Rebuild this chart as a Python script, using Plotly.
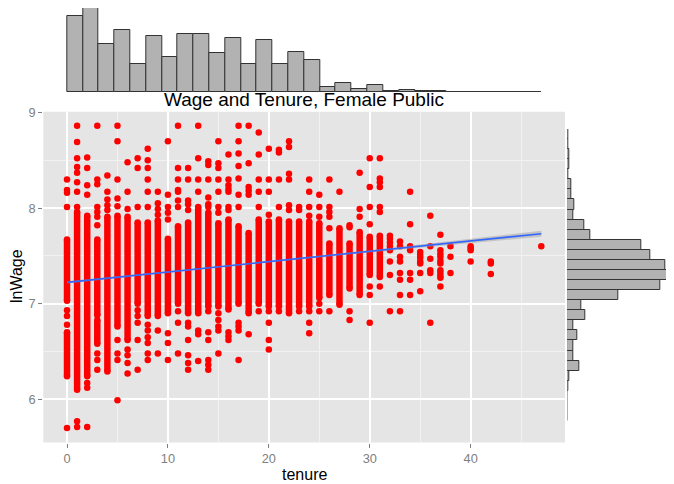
import numpy as np
import plotly.graph_objects as go

# ---------------- data ----------------
# dense vertical runs of points (one run per tenure column)
seg_tenure = [0, 0, 1, 2, 3, 3, 4, 5, 6, 7, 8, 9, 10, 11, 12, 13, 14, 15, 16, 17,
              18, 19, 20, 21, 22, 23, 24, 25, 26, 27, 28, 29, 30, 31]
seg_low = [7.03, 6.24, 6.10, 6.24, 6.88, 6.58, 6.29, 6.76, 6.62, 7.00, 6.87, 6.87,
           6.90, 7.00, 6.90, 6.90, 6.97, 6.97, 6.94, 7.00, 6.90, 7.00, 6.97, 6.97,
           6.90, 6.97, 6.97, 7.06, 7.09, 6.99, 7.16, 7.09, 7.30, 7.28]
seg_high = [7.67, 6.70, 7.96, 7.92, 7.67, 6.83, 7.91, 7.92, 7.91, 7.85, 7.85, 7.87,
            7.68, 7.81, 7.85, 8.01, 7.95, 7.84, 7.88, 7.81, 7.74, 7.88, 7.86, 7.88,
            7.86, 7.86, 7.86, 7.84, 7.63, 7.79, 7.63, 7.75, 7.70, 7.71]

# isolated points: number per tenure value, then their lnWage values in order
pt_tenure_values = list(range(0, 48))
pt_count = [8, 10, 7, 10, 5, 9, 7, 8, 12, 6, 8, 10, 11, 7, 12, 12, 10, 11, 6, 6,
            8, 5, 6, 3, 7, 5, 6, 1, 4, 3, 7, 7, 8, 8, 7, 7, 6, 11, 3, 0,
            4, 0, 3, 0, 0, 0, 0, 1]
pt_wage = [
    8.30, 8.19, 8.16, 8.01, 6.93, 6.87, 6.78, 5.70,                 # 0
    8.86, 8.69, 8.52, 8.43, 8.37, 8.27, 8.17, 8.01, 5.77, 5.71,     # 1
    8.53, 8.42, 8.24, 8.14, 6.17, 6.12, 5.71,                       # 2
    8.86, 8.30, 8.25, 8.01, 7.96, 7.91, 7.82, 6.48, 6.41, 6.31,     # 3
    8.34, 8.17, 8.09, 8.03, 7.98,                                   # 4
    8.86, 8.70, 8.30, 8.10, 8.02, 6.62, 6.48, 6.41, 5.99,           # 5
    8.48, 8.17, 7.99, 6.52, 6.46, 6.38, 6.27,                       # 6
    8.52, 8.42, 8.01, 6.93, 6.87, 6.80, 6.62, 6.31,                 # 7
    8.62, 8.50, 8.42, 8.30, 8.17, 8.01, 6.78, 6.72, 6.65, 6.59, 6.48, 6.41,  # 8
    8.17, 8.05, 7.99, 7.93, 6.72, 6.48,                             # 9
    8.70, 8.14, 8.01, 7.95, 7.88, 6.69, 6.59, 6.41,                 # 10
    8.86, 8.42, 8.30, 8.19, 8.17, 8.08, 8.01, 6.92, 6.80, 6.48,     # 11
    8.42, 8.30, 8.08, 8.04, 7.98, 6.80, 6.76, 6.62, 6.46, 6.38, 6.31,  # 12
    8.86, 8.52, 8.30, 8.17, 6.72, 6.68, 6.40,                       # 13
    8.49, 8.45, 8.30, 8.11, 8.04, 8.01, 6.92, 6.70, 6.62, 6.41, 6.36, 6.31,  # 14
    8.70, 8.47, 8.42, 8.30, 8.17, 8.01, 7.95, 6.90, 6.83, 6.76, 6.72, 6.48,  # 15
    8.56, 8.30, 8.24, 8.20, 8.17, 8.01, 7.98, 6.70, 6.66, 6.62,     # 16
    8.86, 8.70, 8.57, 8.44, 8.31, 8.14, 8.01, 6.80, 6.76, 6.72, 6.41,  # 17
    8.86, 8.47, 8.22, 8.18, 8.14, 6.68,                             # 18
    8.79, 8.56, 8.30, 8.17, 8.01, 6.92,                             # 19
    8.62, 8.30, 8.17, 7.93, 6.92, 6.80, 6.62, 6.52,                 # 20
    8.61, 8.58, 8.30, 8.01, 6.92,                                   # 21
    8.70, 8.64, 8.36, 8.30, 8.03, 7.98,                             # 22
    8.01, 7.98, 6.92,                                               # 23
    8.30, 8.17, 8.01, 7.92, 6.92, 6.80, 6.69,                       # 24
    8.14, 8.01, 7.91, 7.00, 6.92,                                   # 25
    8.30, 8.01, 7.96, 7.91, 7.79, 6.92,                             # 26
    8.17,                                                           # 27
    7.82, 7.80, 6.92, 6.83,                                         # 28
    8.37, 7.99, 7.91,                                               # 29
    8.52, 8.22, 8.01, 7.83, 7.18, 7.09, 6.80,                       # 30
    8.52, 8.31, 8.27, 8.22, 8.01, 7.96, 7.18,                       # 31
    7.71, 7.68, 7.64, 7.60, 7.56, 7.44, 7.30, 6.92,                 # 32
    7.65, 7.60, 7.49, 7.44, 7.32, 7.25, 7.09, 6.92,                 # 33
    8.17, 7.83, 7.60, 7.56, 7.32, 7.25, 7.09,                       # 34
    7.54, 7.51, 7.48, 7.44, 7.42, 7.32, 7.13,                       # 35
    7.92, 7.60, 7.47, 7.35, 7.32, 6.80,                             # 36
    7.72, 7.56, 7.52, 7.49, 7.45, 7.42, 7.35, 7.32, 7.29, 7.27, 7.18,  # 37
    7.60, 7.49, 7.32,                                               # 38
    7.60, 7.58, 7.56, 7.44,                                         # 40
    7.44, 7.42, 7.31,                                               # 42
    7.60,                                                           # 47
]

# linear smoother
fit_tenure = [0, 10, 20, 30, 40, 47]
fit_wage = [7.223, 7.331, 7.440, 7.548, 7.656, 7.732]
fit_halfwidth = [0.012, 0.007, 0.006, 0.012, 0.022, 0.031]

# marginal histogram of tenure (30 bins over 0..47)
tenure_bin_start = 0.0
tenure_binwidth = 47 / 30
tenure_counts = [229, 257, 146, 188, 84, 170, 105, 176, 175, 117, 163, 84, 158, 84, 120,
                 96, 15, 28, 9, 23, 5, 7, 4, 3, 1, 1, 1, 0.6, 0.6, 1]

# marginal histogram of lnWage (bottom bin first)
wage_bin_start = 5.65
wage_binwidth = 0.11
wage_counts = [1, 1, 1, 2, 5, 35, 17, 18, 30, 19, 53, 41, 153, 278, 316, 293, 250, 223,
               70, 51, 17, 21, 13, 11, 3, 5, 5, 3, 3]

x_ticks = [0, 10, 20, 30, 40]
y_ticks = [6, 7, 8, 9]

# ---------------- build figure ----------------
# The page body has an 8px margin, so the figure is offset by (8, 8) in the window.
OFF = 8
W, H = 674 - OFF, 484 - OFF
FONT = "Liberation Sans, Arial, Helvetica, sans-serif"
RED = "#FF0000"


def fx(px):
    return (px - OFF) / W


def fy(py):
    return min(1.0, 1 - (py - OFF) / H)


pt_tenure = np.repeat(pt_tenure_values, pt_count)

seg_x, seg_y = [], []
for t, lo, hi in zip(seg_tenure, seg_low, seg_high):
    seg_x += [t, t, None]
    seg_y += [lo, hi, None]

fig = go.Figure()

# dense runs
fig.add_trace(go.Scatter(x=seg_x, y=seg_y, mode="lines+markers",
                         line=dict(color=RED, width=6.5),
                         marker=dict(color=RED, size=6.5),
                         connectgaps=False, hoverinfo="skip",
                         xaxis="x", yaxis="y", showlegend=False))
# isolated points
fig.add_trace(go.Scatter(x=pt_tenure, y=pt_wage, mode="markers",
                         marker=dict(color=RED, size=6.5),
                         xaxis="x", yaxis="y", showlegend=False))
# confidence band
lo = [w - h for w, h in zip(fit_wage, fit_halfwidth)]
hi = [w + h for w, h in zip(fit_wage, fit_halfwidth)]
fig.add_trace(go.Scatter(x=fit_tenure + fit_tenure[::-1], y=hi + lo[::-1],
                         fill="toself", fillcolor="rgba(153,153,153,0.45)",
                         line=dict(width=0), mode="lines", hoverinfo="skip",
                         xaxis="x", yaxis="y", showlegend=False))
fig.add_trace(go.Scatter(x=fit_tenure, y=fit_wage, mode="lines",
                         line=dict(color="#3366FF", width=1.6),
                         xaxis="x", yaxis="y", showlegend=False))

# top histogram
t_centers = tenure_bin_start + tenure_binwidth * (np.arange(len(tenure_counts)) + 0.5)
fig.add_trace(go.Bar(x=t_centers, y=tenure_counts, width=tenure_binwidth,
                     marker=dict(color="#B2B2B2", line=dict(color="#333333", width=1)),
                     xaxis="x2", yaxis="y2", showlegend=False))

# right histogram
w_centers = wage_bin_start + wage_binwidth * (np.arange(len(wage_counts)) + 0.5)
fig.add_trace(go.Bar(y=w_centers, x=wage_counts, width=wage_binwidth, orientation="h",
                     marker=dict(color="#B2B2B2", line=dict(color="#333333", width=1)),
                     xaxis="x3", yaxis="y3", showlegend=False))

main_xd = [fx(43.3), fx(565)]
main_yd = [fy(442.5), fy(111.7)]
tickfont = dict(family=FONT, size=12.8, color="#7F7F7F")

# top histogram: baseline at window y 92.3, tallest bar at 6.7
top_base, top_peak = 92.3, 6.7
top_range_max = max(tenure_counts) * (top_base - OFF) / (top_base - top_peak)

fig.update_layout(
    width=W, height=H, autosize=False,
    margin=dict(l=0, r=0, t=0, b=0, pad=0, autoexpand=False),
    paper_bgcolor="white", plot_bgcolor="rgba(0,0,0,0)",
    bargap=0,
    xaxis=dict(domain=main_xd, range=[-2.35, 49.35], tickvals=x_ticks,
               showgrid=True, gridcolor="white", gridwidth=1.6, zeroline=False,
               ticks="outside", ticklen=4, tickcolor="#7F7F7F", tickwidth=1,
               tickfont=tickfont, showline=False, anchor="y", automargin=False,
               minor=dict(dtick=5, tick0=0, showgrid=True, gridcolor="#F2F2F2",
                          gridwidth=0.8, ticks="")),
    yaxis=dict(domain=main_yd, range=[5.548, 9.008], tickvals=y_ticks,
               showgrid=True, gridcolor="white", gridwidth=1.6, zeroline=False,
               ticks="outside", ticklen=4, tickcolor="#7F7F7F", tickwidth=1,
               tickfont=tickfont, showline=False, anchor="x", automargin=False,
               minor=dict(dtick=0.5, tick0=0, showgrid=True, gridcolor="#F2F2F2",
                          gridwidth=0.8, ticks="")),
    xaxis2=dict(domain=main_xd, range=[-2.35, 49.35], visible=False, anchor="y2",
                automargin=False),
    yaxis2=dict(domain=[fy(top_base), 1.0], range=[0, top_range_max], visible=False,
                anchor="x2", automargin=False),
    xaxis3=dict(domain=[fx(567.3), 1.0], range=[0, 316 * (674 - 567.3) / (672.7 - 567.3)],
                visible=False, anchor="y3", automargin=False),
    yaxis3=dict(domain=[fy(421), fy(129)],
                range=[wage_bin_start, wage_bin_start + wage_binwidth * len(wage_counts)],
                visible=False, anchor="x3", automargin=False),
    shapes=[dict(type="rect", xref="x domain", yref="y domain", x0=0, x1=1, y0=0, y1=1,
                 fillcolor="#E5E5E5", line=dict(width=0), layer="below")],
    annotations=[
        dict(text="Wage and Tenure, Female Public", x=fx(304), y=fy(99),
             xref="paper", yref="paper", showarrow=False, xanchor="center",
             yanchor="middle", font=dict(family=FONT, size=19, color="black")),
        dict(text="tenure", x=fx(304), y=fy(474), xref="paper", yref="paper",
             showarrow=False, xanchor="center", yanchor="middle",
             font=dict(family=FONT, size=16, color="black")),
        dict(text="lnWage", x=fx(16), y=fy(276), xref="paper", yref="paper",
             showarrow=False, xanchor="center", yanchor="middle", textangle=-90,
             font=dict(family=FONT, size=16, color="black")),
    ],
)

fig.write_html("out.html")
